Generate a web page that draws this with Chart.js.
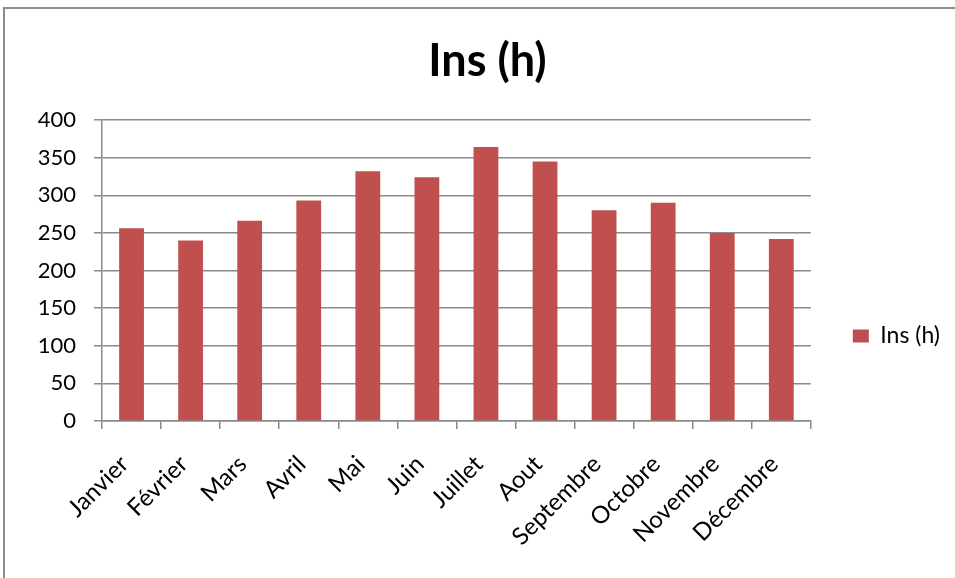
<!DOCTYPE html>
<html>
<head>
<meta charset="utf-8">
<script src="https://cdn.jsdelivr.net/npm/chart.js@4.4.1/dist/chart.umd.min.js"></script>
<style>
  html, body { margin: 0; padding: 0; background: #fff; }
  #wrap { position: relative; width: 955px; height: 578px; overflow: hidden; }
  #frame {
    position: absolute; left: 3px; top: 7px; width: 1000px; height: 620px;
    border: 2px solid #8c8c8c; box-sizing: border-box; pointer-events: none;
  }
  canvas { position: absolute; left: 0; top: 0; }
</style>
</head>
<body>
<div id="wrap">
  <canvas id="chart" width="955" height="578"></canvas>
  <div id="frame"></div>
</div>
<script>
// monthly sunshine hours
const months = ['Janvier', 'Février', 'Mars', 'Avril', 'Mai', 'Juin',
  'Juillet', 'Aout', 'Septembre', 'Octobre', 'Novembre', 'Décembre'];
const insHours = [256, 240, 266, 293, 332, 324, 364, 345, 280, 290, 250, 242];
const seriesName = 'Ins (h)';
const yTicks = [0, 50, 100, 150, 200, 250, 300, 350, 400];

const gridGray = '#8a8a8a';
const barRed = '#c0504d';
const font = 'Lato, "Open Sans", sans-serif';

// push the legend down so it sits level with the lower half of the plot
const legendDrop = {
  id: 'legendDrop',
  afterLayout(chart) {
    const lg = chart.legend;
    if (!lg) return;
    lg.top += 47;
    lg.bottom += 47;
  },
};

const ctx = document.getElementById('chart');
new Chart(ctx, {
  type: 'bar',
  plugins: [legendDrop],
  data: {
    labels: months,
    datasets: [{
      label: seriesName,
      data: insHours,
      backgroundColor: barRed,
      borderWidth: 0,
      categoryPercentage: 1,
      barPercentage: 0.42,
    }],
  },
  options: {
    responsive: false,
    animation: false,
    layout: { padding: { left: 25, right: 5, top: 0, bottom: 0 } },
    plugins: {
      tooltip: { enabled: false },
      title: {
        display: true,
        text: seriesName,
        color: '#000',
        font: { family: font, size: 45, weight: 'bold' },
        padding: { top: 34, bottom: 32 },
      },
      legend: {
        position: 'right',
        align: 'center',
        labels: {
          color: '#000',
          font: { family: font, size: 23 },
          boxWidth: 16,
          boxHeight: 13,
          padding: 42,
        },
      },
    },
    scales: {
      x: {
        grid: {
          drawOnChartArea: false,
          drawTicks: true,
          tickLength: 8,
          color: gridGray,
          lineWidth: 1.5,
        },
        border: { color: gridGray, width: 1.5 },
        ticks: {
          color: '#000',
          font: { family: font, size: 24 },
          maxRotation: 45,
          minRotation: 45,
          autoSkip: false,
          padding: 21,
          labelOffset: -7,
        },
        afterFit: (scale) => { scale.height = 157; },
      },
      y: {
        min: 0,
        max: 400,
        afterBuildTicks: (scale) => {
          scale.ticks = yTicks.map((v) => ({ value: v }));
        },
        grid: {
          color: gridGray,
          lineWidth: 1.5,
          drawTicks: true,
          tickLength: 8,
        },
        border: { color: gridGray, width: 1.5 },
        ticks: {
          color: '#000',
          font: { family: font, size: 22 },
          padding: 18,
        },
        afterFit: (scale) => { scale.width = 77; },
      },
    },
  },
});
</script>
</body>
</html>
